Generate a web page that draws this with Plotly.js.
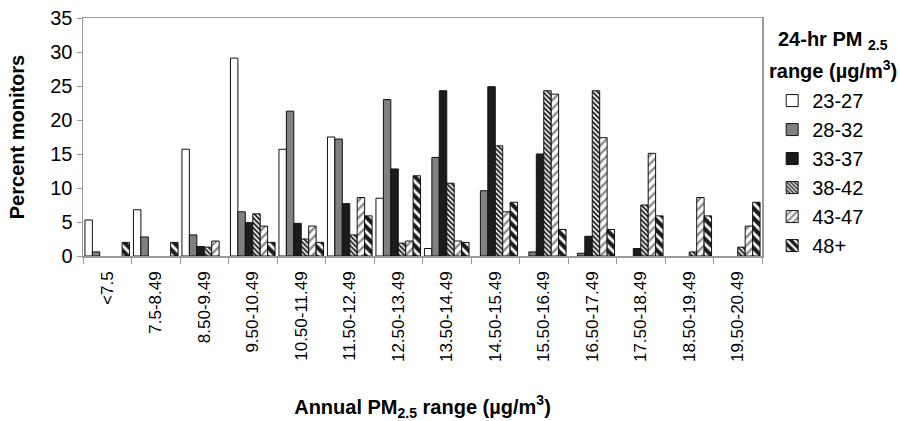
<!DOCTYPE html>
<html>
<head>
<meta charset="utf-8">
<script src="https://cdn.plot.ly/plotly-3.0.1.min.js"></script>
<style>html,body{margin:0;padding:0;background:#fff;}#chart{width:900px;height:421px;}</style>
</head>
<body>
<div id="chart"></div>
<script>
const categories = ["<7.5","7.5-8.49","8.50-9.49","9.50-10.49","10.50-11.49","11.50-12.49","12.50-13.49","13.50-14.49","14.50-15.49","15.50-16.49","16.50-17.49","17.50-18.49","18.50-19.49","19.50-20.49"];
const seriesNames = ["23-27","28-32","33-37","38-42","43-47","48+"];
const s23_27 = [5.3, 6.8, 15.7, 29.1, 15.7, 17.5, 8.5, 1.1, 0, 0, 0, 0, 0, 0];
const s28_32 = [0.6, 2.8, 3.1, 6.5, 21.3, 17.2, 23.0, 14.5, 9.6, 0.6, 0.4, 0, 0, 0];
const s33_37 = [0, 0, 1.4, 4.9, 4.8, 7.7, 12.8, 24.3, 24.9, 15.0, 2.9, 1.1, 0, 0];
const s38_42 = [0, 0, 1.3, 6.2, 2.5, 3.1, 1.9, 10.7, 16.2, 24.3, 24.3, 7.5, 0.6, 1.3];
const s43_47 = [0, 0, 2.2, 4.4, 4.4, 8.6, 2.2, 2.2, 6.5, 23.8, 17.4, 15.1, 8.6, 4.4];
const s48plus = [2.0, 2.0, 0, 2.0, 2.0, 5.9, 11.8, 2.0, 7.9, 3.9, 3.9, 5.9, 5.9, 7.9];
const yTicks = [0, 5, 10, 15, 20, 25, 30, 35];

const values = [s23_27, s28_32, s33_37, s38_42, s43_47, s48plus];
const markers = [
  {color: "#ffffff"},
  {color: "#808080"},
  {color: "#1c1c1c"},
  {color: "#ffffff", pattern: {shape: "\\", fgcolor: "#111111", bgcolor: "#ffffff", size: 3.5, solidity: 0.5}},
  {color: "#ffffff", pattern: {shape: "/", fgcolor: "#8a8a8a", bgcolor: "#ffffff", size: 6, solidity: 0.4}},
  {color: "#1c1c1c", pattern: {shape: "\\", fgcolor: "#ffffff", bgcolor: "#1c1c1c", size: 7, solidity: 0.4}}
];
const font = "Arial, 'Liberation Sans', sans-serif";

const traces = seriesNames.map((name, i) => {
  const m = Object.assign({line: {color: "#111111", width: 1}}, markers[i]);
  // empty categories are left without a bar (as in the reference)
  return {type: "bar", name: name, x: categories, y: values[i].map(v => v === 0 ? null : v), marker: m, hoverinfo: "skip"};
});

const layout = {
  width: 900, height: 421,
  margin: {l: 83, r: 138, t: 18, b: 165, pad: 0},
  paper_bgcolor: "#ffffff", plot_bgcolor: "#ffffff",
  barmode: "group", bargap: 0.08, bargroupgap: 0,
  font: {family: font, color: "#000000"},
  showlegend: true,
  legend: {
    x: 1.015, xanchor: "left", y: 0.735, yanchor: "top",
    font: {family: font, size: 20, color: "#000"},
    bgcolor: "rgba(0,0,0,0)", borderwidth: 0, itemwidth: 30,
    traceorder: "normal"
  },
  xaxis: {
    type: "category",
    tickangle: -90,
    tickfont: {family: font, size: 17, color: "#000"},
    ticks: "outside", ticklen: 6, tickcolor: "#999999", tickwidth: 1,
    tickson: "boundaries",
    ticklabelstandoff: 7,
    showline: true, linecolor: "#999999", linewidth: 1.5, mirror: true,
    showgrid: false, zeroline: false, automargin: false,
    title: {text: "<b>Annual PM<sub>2.5</sub> range (µg/m<sup>3</sup>)</b>", font: {family: font, size: 20, color: "#000"}, standoff: 41}
  },
  yaxis: {
    range: [0, 35], tickvals: yTicks, ticktext: yTicks.map(String),
    tickfont: {family: font, size: 20, color: "#000"},
    ticks: "outside", ticklen: 5, tickcolor: "#999999", tickwidth: 1,
    showline: true, linecolor: "#999999", linewidth: 1.5, mirror: true,
    showgrid: false, zeroline: false, automargin: false,
    title: {text: "<b>Percent monitors</b>", font: {family: font, size: 20, color: "#000"}, standoff: 20}
  },
  annotations: [
    {xref: "paper", yref: "paper", x: 1.105, y: 0.905, xanchor: "center", yanchor: "middle", showarrow: false,
     text: "<b>24-hr PM <sub>2.5</sub></b>",
     font: {family: font, size: 20, color: "#000"}},
    {xref: "paper", yref: "paper", x: 1.105, y: 0.785, xanchor: "center", yanchor: "middle", showarrow: false,
     text: "<b>range (µg/m<sup>3</sup>)</b>",
     font: {family: font, size: 20, color: "#000"}}
  ]
};

Plotly.newPlot("chart", traces, layout, {displayModeBar: false, staticPlot: true});
</script>
</body>
</html>
